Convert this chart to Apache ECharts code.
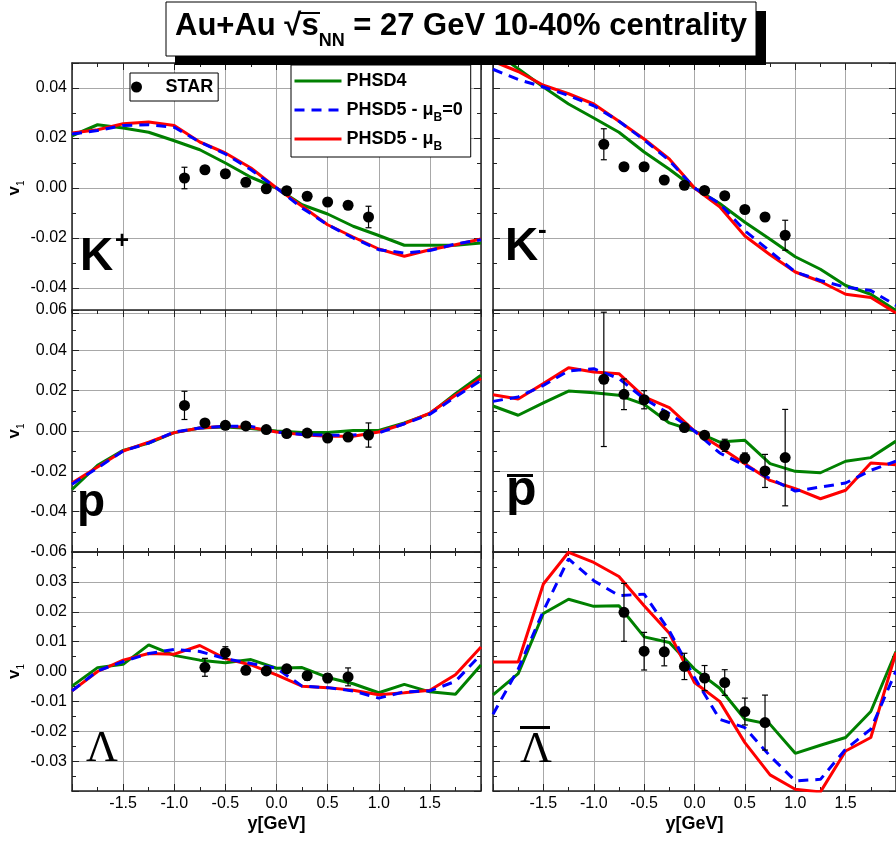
<!DOCTYPE html>
<html><head><meta charset="utf-8">
<script src="https://cdn.jsdelivr.net/npm/echarts@6/dist/echarts.min.js"></script>
<style>html,body{margin:0;padding:0;background:#fff}#c{width:896px;height:842px}</style>
</head><body><div id="c"></div>
<script>
// ---------- data ----------
const rapidity = [-2,-1.75,-1.5,-1.25,-1,-0.75,-0.5,-0.25,0,0.25,0.5,0.75,1,1.25,1.5,1.75,2];
const starYK = [-0.9,-0.7,-0.5,-0.3,-0.1,0.1,0.3,0.5,0.7,0.9];
const starYL = [-0.7,-0.5,-0.3,-0.1,0.1,0.3,0.5,0.7];
const seriesNames = ['STAR','PHSD4','PHSD5 - μB=0','PHSD5 - μB'];

// K+
const kpStar    = [0.004,0.0073,0.0057,0.0023,-0.0003,-0.0011,-0.0033,-0.0056,-0.0069,-0.0116];
const kpStarErr = [0.0043,0.0015,0.0015,0.0015,0.0015,0.0015,0.0015,0.0015,0.0015,0.0043];
const kpPHSD4   = [0.0209,0.0253,0.024,0.0223,0.0189,0.0153,0.010,0.0043,0,-0.0067,-0.0104,-0.0153,-0.019,-0.0229,-0.0229,-0.0229,-0.022];
const kpMu0     = [0.0216,0.023,0.025,0.0253,0.0243,0.0184,0.0136,0.0073,0,-0.008,-0.0147,-0.020,-0.0247,-0.026,-0.025,-0.0224,-0.0207];
const kpMuB     = [0.022,0.0233,0.0257,0.0264,0.025,0.0184,0.014,0.008,0,-0.0073,-0.0147,-0.0196,-0.0244,-0.0273,-0.0247,-0.0227,-0.0204];
// K-
const kmStar    = [0.0175,0.0085,0.0085,0.0032,0.0011,-0.001,-0.0031,-0.0086,-0.0116,-0.0189];
const kmStarErr = [0.0062,0.0015,0.0015,0.0015,0.0015,0.0015,0.0015,0.0015,0.0015,0.006];
const kmPHSD4   = [0.055,0.0477,0.0404,0.0336,0.028,0.0223,0.0144,0.0075,0,-0.0062,-0.0137,-0.0205,-0.0275,-0.0325,-0.039,-0.0425,-0.049];
const kmMu0     = [0.0475,0.0434,0.0404,0.037,0.0329,0.0267,0.0192,0.011,0,-0.0062,-0.0171,-0.0253,-0.0336,-0.037,-0.0397,-0.041,-0.047];
const kmMuB     = [0.0507,0.0466,0.0411,0.0377,0.0336,0.0267,0.0196,0.0116,0,-0.0075,-0.0192,-0.0267,-0.0336,-0.0374,-0.0425,-0.0438,-0.05];
// p
const pStar     = [0.0127,0.004,0.0028,0.0025,0.0007,-0.0013,-0.001,-0.0035,-0.003,-0.002];
const pStarErr  = [0.007,0.0015,0.0015,0.0015,0.0015,0.0015,0.0015,0.0015,0.0015,0.006];
const pPHSD4    = [-0.029,-0.017,-0.0096,-0.006,-0.0008,0.0015,0.002,0.0012,0,-0.0008,-0.0008,0.0003,0.0003,0.004,0.0086,0.0185,0.0276];
const pMu0      = [-0.0264,-0.0183,-0.0099,-0.006,-0.0005,0.0015,0.0023,0.0023,-0.0005,-0.0017,-0.0021,-0.002,-0.001,0.0036,0.0083,0.0169,0.0251];
const pMuB      = [-0.0258,-0.0179,-0.0099,-0.0055,-0.0008,0.0015,0.0023,0.0017,-0.0005,-0.0018,-0.0026,-0.0026,-0.0005,0.0036,0.0089,0.0177,0.026];
// anti-p
const pbStar    = [0.0256,0.0182,0.0155,0.0078,0.0017,-0.0021,-0.0071,-0.0134,-0.0198,-0.0132];
const pbStarErr = [0.0333,0.0076,0.0045,0.0015,0.0015,0.0015,0.003,0.0025,0.0082,0.0239];
const pbPHSD4   = [0.0124,0.0078,0.0139,0.0198,0.019,0.0177,0.0132,0.004,0,-0.0055,-0.0046,-0.0162,-0.02,-0.0207,-0.015,-0.0132,-0.005];
const pbMu0     = [0.0147,0.0169,0.0226,0.0298,0.0309,0.026,0.016,0.0086,0,-0.0109,-0.017,-0.0236,-0.0298,-0.0278,-0.0258,-0.0195,-0.015];
const pbMuB     = [0.018,0.0159,0.0235,0.0314,0.0293,0.0284,0.0169,0.0116,0,-0.0079,-0.0162,-0.0245,-0.0286,-0.0336,-0.0294,-0.0159,-0.0167];
// Lambda
const lStar     = [0.0014,0.0063,0.0004,0.0002,0.0009,-0.0014,-0.0022,-0.0018];
const lStarErr  = [0.003,0.002,0.0012,0.0012,0.0012,0.0015,0.0015,0.003];
const lPHSD4    = [-0.0049,0.0013,0.0024,0.0089,0.0054,0.0038,0.0029,0.004,0.0011,0.0013,-0.002,-0.0041,-0.0071,-0.0043,-0.0068,-0.0076,0.0022];
const lMu0      = [-0.0065,0.0002,0.0033,0.006,0.0074,0.0067,0.0043,0.0027,0.0011,-0.0049,-0.0054,-0.0065,-0.0089,-0.0068,-0.0065,-0.0033,0.0057];
const lMuB      = [-0.0065,0,0.0038,0.006,0.0058,0.0087,0.0043,0.0022,-0.0011,-0.0049,-0.0054,-0.0063,-0.0078,-0.0071,-0.0063,-0.0011,0.0082];
// anti-Lambda
const lbStar    = [0.0198,0.0068,0.0066,0.0017,-0.0022,-0.0037,-0.0134,-0.0171];
const lbStarErr = [0.0097,0.0063,0.0047,0.0044,0.0042,0.0043,0.0045,0.0092];
const lbPHSD4   = [-0.0078,-0.0007,0.0194,0.0242,0.0218,0.022,0.0116,0.0097,0.0008,-0.0056,-0.016,-0.0177,-0.0274,-0.0247,-0.0221,-0.0134,0.0067];
const lbMu0     = [-0.0143,0.0008,0.0203,0.0377,0.0304,0.0254,0.0259,0.0136,-0.002,-0.016,-0.0188,-0.0283,-0.0366,-0.0361,-0.026,-0.0193,0.0002];
const lbMuB     = [0.0032,0.0032,0.0293,0.0399,0.0365,0.0318,0.022,0.0128,-0.0037,-0.01,-0.0238,-0.0346,-0.0394,-0.0403,-0.0266,-0.0221,0.0064];

// ---------- layout ----------
const FONT = '"Liberation Sans", Arial, sans-serif';
const AX = '#222', GRIDC = '#a8a8a8';
const panels = [
  {left:72,  top:63,  width:409, height:250, row:0, col:0, ymin:-0.05, ymax:0.05, starX:starYK, star:kpStar, err:kpStarErr, lines:[kpPHSD4,kpMu0,kpMuB], hideY:true},
  {left:493, top:63,  width:410, height:250, row:0, col:1, ymin:-0.05, ymax:0.05, starX:starYK, star:kmStar, err:kmStarErr, lines:[kmPHSD4,kmMu0,kmMuB], hideY:true},
  {left:72,  top:310, width:409, height:242, row:1, col:0, ymin:-0.06, ymax:0.06, interval:0.02, starX:starYK, star:pStar, err:pStarErr, lines:[pPHSD4,pMu0,pMuB], hideY:false},
  {left:493, top:310, width:410, height:242, row:1, col:1, ymin:-0.06, ymax:0.06, interval:0.02, starX:starYK, star:pbStar, err:pbStarErr, lines:[pbPHSD4,pbMu0,pbMuB], hideY:false},
  {left:72,  top:552, width:409, height:239, row:2, col:0, ymin:-0.04, ymax:0.04, interval:0.01, starX:starYL, star:lStar, err:lStarErr, lines:[lPHSD4,lMu0,lMuB], hideY:true},
  {left:493, top:552, width:410, height:239, row:2, col:1, ymin:-0.04, ymax:0.04, interval:0.01, starX:starYL, star:lbStar, err:lbStarErr, lines:[lbPHSD4,lbMu0,lbMuB], hideY:true}
];
const lineColors = ['#008000','#0000ff','#ff0000'];

const grids = [], xAxes = [], yAxes = [], series = [];
const tickCommon = {inside:true, length:7, lineStyle:{color:AX, width:1}};
const minorCommon = {show:true, splitNumber:2, length:4, lineStyle:{color:AX, width:1}};
const axisLineCommon = {show:true, onZero:false, lineStyle:{color:AX, width:1.5}};

function renderErr(params, api) {
  const x = api.value(0), y = api.value(1), e = api.value(2);
  const a = api.coord([x, y + e]), b = api.coord([x, y - e]);
  const st = {stroke:'#000', lineWidth:1.2};
  return {type:'group', children:[
    {type:'line', shape:{x1:a[0], y1:a[1], x2:b[0], y2:b[1]}, style:st},
    {type:'line', shape:{x1:a[0]-3, y1:a[1], x2:a[0]+3, y2:a[1]}, style:st},
    {type:'line', shape:{x1:b[0]-3, y1:b[1], x2:b[0]+3, y2:b[1]}, style:st}
  ]};
}

panels.forEach((p, i) => {
  grids.push({left:p.left, top:p.top, width:p.width, height:p.height, containLabel:false});
  const xc = {type:'value', gridIndex:i, min:-2, max:2, interval:0.5,
    axisLine:axisLineCommon, axisTick:tickCommon, minorTick:minorCommon};
  xAxes.push(Object.assign({}, xc, {position:'bottom', show:p.row !== 0,
    axisLabel:{show:p.row === 2, fontSize:16, color:'#000', fontFamily:FONT, margin:5,
      showMinLabel:false, showMaxLabel:false, formatter:v => v.toFixed(1)},
    splitLine:{show:false},
    name:p.row === 2 ? 'y[GeV]' : '', nameLocation:'middle', nameGap:24,
    nameTextStyle:{fontSize:18, fontWeight:'bold', color:'#000', fontFamily:FONT}}));
  xAxes.push(Object.assign({}, xc, {position:'top', axisLabel:{show:false},
    splitLine:{show:true, lineStyle:{color:GRIDC, width:1}}}));
  const yc = {type:'value', gridIndex:i, min:p.ymin, max:p.ymax,
    axisLine:axisLineCommon, axisTick:tickCommon, minorTick:minorCommon};
  if (p.interval) yc.interval = p.interval;
  yAxes.push(Object.assign({}, yc, {position:'left',
    axisLabel:{show:p.col === 0, fontSize:16, color:'#000', fontFamily:FONT, margin:5,
      showMinLabel:!p.hideY, showMaxLabel:!p.hideY, formatter:v => v.toFixed(2)},
    splitLine:{show:true, lineStyle:{color:GRIDC, width:1}},
    name:p.col === 0 ? '{v|v}{s|1}' : '', nameLocation:'middle', nameGap:46,
    nameTextStyle:{rich:{
      v:{fontSize:17, fontWeight:'bold', color:'#000', fontFamily:FONT, lineHeight:10, verticalAlign:'middle'},
      s:{fontSize:10, color:'#000', fontFamily:FONT, lineHeight:10, padding:[14,0,0,0], verticalAlign:'middle'}}}}));
  yAxes.push(Object.assign({}, yc, {position:'right', axisLabel:{show:false}, splitLine:{show:false}}));

  const xi = 2 * i, yi = 2 * i;
  series.push({type:'custom', name:'STAR err', xAxisIndex:xi, yAxisIndex:yi, z:4,
    renderItem:renderErr, encode:{x:0, y:1},
    data:p.starX.map((x, k) => [x, p.star[k], p.err[k]])});
  // drawing order: PHSD4 (green), PHSD5 muB (red), PHSD5 mu0 (blue dashed)
  [0, 2, 1].forEach(j => {
    series.push({type:'line', name:seriesNames[j + 1], xAxisIndex:xi, yAxisIndex:yi,
      symbol:'none', z:3, animation:false,
      lineStyle:{color:lineColors[j], width:3, type:j === 1 ? [10, 7] : 'solid'},
      itemStyle:{color:lineColors[j]},
      data:rapidity.map((x, k) => [x, p.lines[j][k]])});
  });
  series.push({type:'scatter', name:'STAR', xAxisIndex:xi, yAxisIndex:yi, z:5,
    symbol:'circle', symbolSize:11, itemStyle:{color:'#000', opacity:1},
    data:p.starX.map((x, k) => [x, p.star[k]])});
});

const legendRich = {
  a:{fontSize:18, fontWeight:'bold', color:'#000', fontFamily:FONT, lineHeight:28, verticalAlign:'middle'},
  b:{fontSize:12, fontWeight:'bold', color:'#000', fontFamily:FONT, lineHeight:12, padding:[16,0,0,0], verticalAlign:'middle'}
};

const graphics = [
  {type:'rect', z:100, shape:{x:175, y:11, width:591, height:54}, style:{fill:'#000'}},
  {type:'rect', z:101, shape:{x:166, y:2, width:590, height:54}, style:{fill:'#fff', stroke:'#000', lineWidth:1}},
  {type:'text', z:102, x:461, y:26, style:{
    text:'{m|Au+Au √s}{n|NN}{m| = 27 GeV 10-40% centrality}', align:'center', verticalAlign:'middle',
    rich:{m:{fontSize:31, fontWeight:'bold', fontFamily:FONT, fill:'#000', lineHeight:36, verticalAlign:'middle'},
          n:{fontSize:18, fontWeight:'bold', fontFamily:FONT, fill:'#000', lineHeight:18, padding:[31,0,0,0], verticalAlign:'middle'}}}},
  {type:'line', z:102, shape:{x1:299, y1:13, x2:320, y2:13}, style:{stroke:'#000', lineWidth:2}},
  // panel labels
  {type:'text', z:50, x:80, y:257, style:{text:'K', font:'bold 46px ' + FONT, fill:'#000', verticalAlign:'middle'}},
  {type:'text', z:50, x:115, y:241, style:{text:'+', font:'bold 24px ' + FONT, fill:'#000', verticalAlign:'middle'}},
  {type:'text', z:50, x:505, y:247, style:{text:'K', font:'bold 46px ' + FONT, fill:'#000', verticalAlign:'middle'}},
  {type:'text', z:50, x:538, y:231, style:{text:'-', font:'bold 26px ' + FONT, fill:'#000', verticalAlign:'middle'}},
  {type:'text', z:50, x:77, y:503, style:{text:'p', font:'bold 46px ' + FONT, fill:'#000', verticalAlign:'middle'}},
  {type:'text', z:50, x:506, y:491, style:{text:'p', font:'bold 50px ' + FONT, fill:'#000', verticalAlign:'middle'}},
  {type:'rect', z:50, shape:{x:507, y:474, width:26, height:3}, style:{fill:'#000'}},
  {type:'text', z:50, x:86, y:749, style:{text:'Λ', font:'44px "Liberation Serif", "Times New Roman", serif', fill:'#000', verticalAlign:'middle'}},
  {type:'text', z:50, x:520, y:750, style:{text:'Λ', font:'44px "Liberation Serif", "Times New Roman", serif', fill:'#000', verticalAlign:'middle'}},
  {type:'rect', z:50, shape:{x:520, y:726, width:30, height:3}, style:{fill:'#000'}}
];

const chart = echarts.init(document.getElementById('c'), null, {renderer:'canvas'});
chart.setOption({
  animation:false,
  backgroundColor:'#fff',
  textStyle:{fontFamily:FONT},
  grid:grids, xAxis:xAxes, yAxis:yAxes, series:series,
  legend:[
    {data:['STAR'], left:130, top:73, orient:'horizontal', itemWidth:48, itemHeight:11,
     padding:[5,5,5,1], borderColor:'#000', borderWidth:1, backgroundColor:'#fff', selectedMode:false, z:20,
     itemStyle:{color:'#000', opacity:1},
     textStyle:{fontSize:18, fontWeight:'bold', color:'#000', fontFamily:FONT, lineHeight:18}},
    {data:['PHSD4','PHSD5 - μB=0','PHSD5 - μB'], left:291, top:65, orient:'vertical', itemWidth:47, itemHeight:14,
     itemGap:1, padding:[2,8,4,2], borderColor:'#000', borderWidth:1, backgroundColor:'#fff', selectedMode:false, z:20,
     itemStyle:{opacity:0, borderWidth:0},
     lineStyle:{width:3},
     formatter:name => {
       if (name === 'PHSD5 - μB=0') return '{a|PHSD5 - μ}{b|B}{a|=0}';
       if (name === 'PHSD5 - μB') return '{a|PHSD5 - μ}{b|B}';
       return '{a|' + name + '}{b| }';
     },
     textStyle:{rich:legendRich}}
  ],
  graphic:graphics
});
</script>
</body></html>
